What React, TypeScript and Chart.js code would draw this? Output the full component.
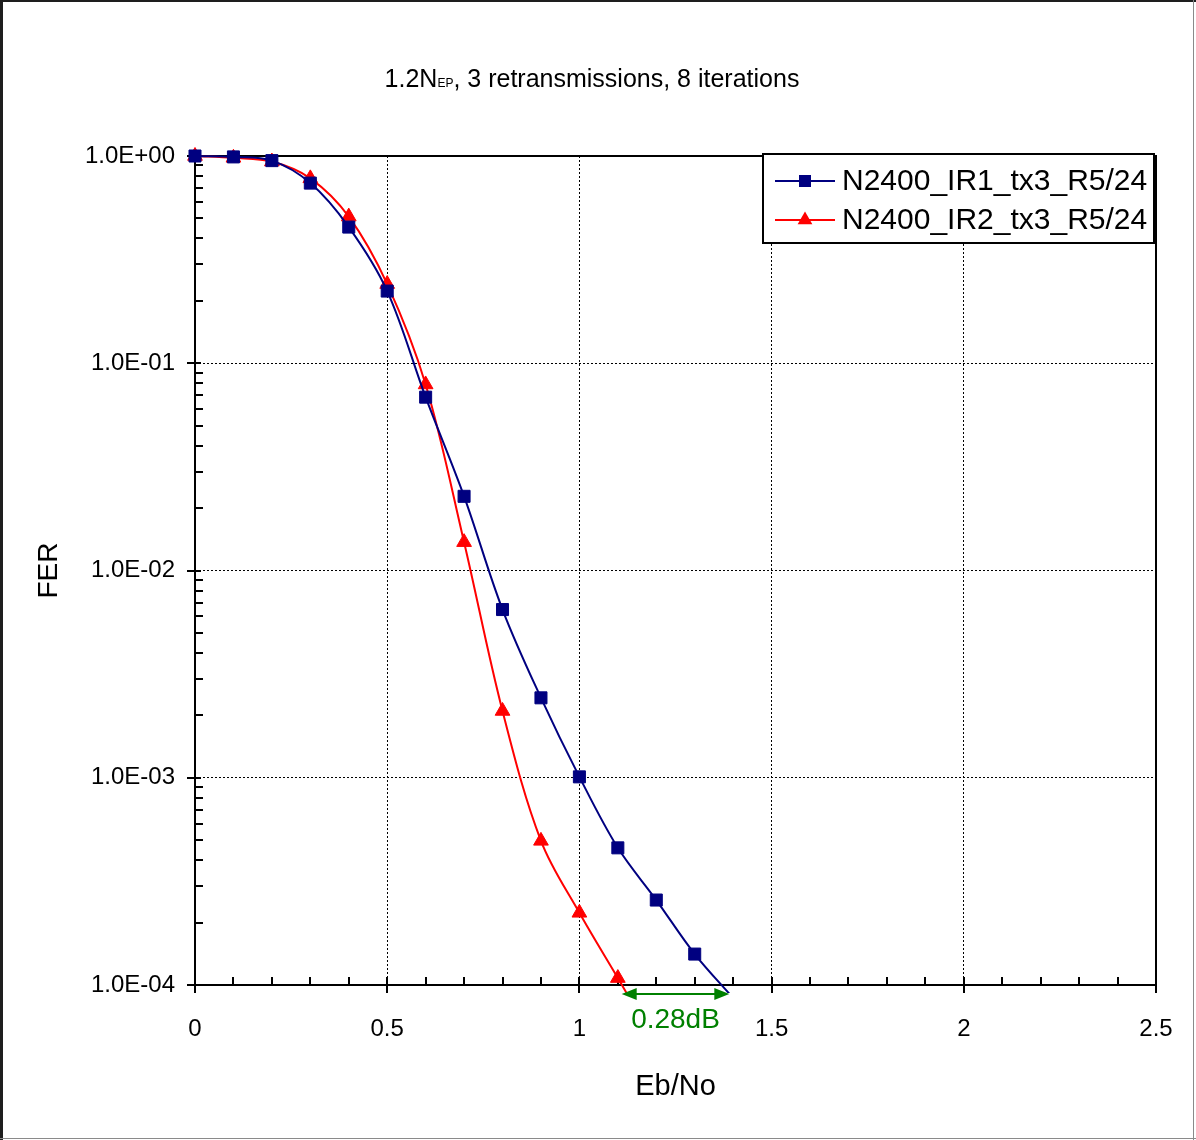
import React, { useEffect, useRef } from "react";
import { Chart, registerables } from "chart.js";

Chart.register(...registerables);

// ---- data ----
const ebNo = [0, 0.1, 0.2, 0.3, 0.4, 0.5, 0.6, 0.7, 0.8, 0.9, 1.0, 1.1, 1.2, 1.3, 1.4];
const ir1Fer = [1.0, 0.99, 0.95, 0.74, 0.454, 0.223, 0.0686, 0.0228, 0.00648, 0.00243, 0.00101, 0.000459, 0.000257, 0.000141, 0.0000865];
const ebNoIr2 = [0, 0.1, 0.2, 0.3, 0.4, 0.5, 0.6, 0.7, 0.8, 0.9, 1.0, 1.1, 1.2];
const ir2Fer = [1.0, 0.98, 0.94, 0.78, 0.51, 0.241, 0.079, 0.0137, 0.0021, 0.000496, 0.000223, 0.000108, 0.000052];
const seriesNames = ["N2400_IR1_tx3_R5/24", "N2400_IR2_tx3_R5/24"];

const xTickValues = [0, 0.5, 1, 1.5, 2, 2.5];
const yTickValues = [1, 0.1, 0.01, 0.001, 0.0001];
const yTickLabels = ["1.0E+00", "1.0E-01", "1.0E-02", "1.0E-03", "1.0E-04"];

const titleMain = "1.2N";
const titleSub = "EP";
const titleRest = ", 3 retransmissions, 8 iterations";
const xTitle = "Eb/No";
const yTitle = "FER";

const gapStart = 1.11;
const gapEnd = 1.39;
const gapLabel = "0.28dB";

const FONT = "'Liberation Sans', Arial, sans-serif";
const BLUE = "#000080";
const RED = "#FF0000";
const GREEN = "#008000";

const decorPlugin = {
  id: "decor",
  beforeDatasetsDraw(chart: any) {
    const { ctx, chartArea } = chart;
    const xs = chart.scales.x;
    const ys = chart.scales.y;
    const { left, right, top, bottom } = chartArea;
    ctx.save();
    ctx.strokeStyle = "#000";
    ctx.lineWidth = 2;
    ctx.setLineDash([]);
    ctx.beginPath();
    for (let d = -4; d <= -1; d++) {
      for (let m = 2; m <= 9; m++) {
        const py = Math.round(ys.getPixelForValue(m * Math.pow(10, d)));
        ctx.moveTo(left, py);
        ctx.lineTo(left + 8, py);
      }
    }
    yTickValues.forEach((v) => {
      const py = Math.round(ys.getPixelForValue(v));
      ctx.moveTo(left - 8, py);
      ctx.lineTo(left + 6, py);
    });
    for (let i = 0; i <= 25; i++) {
      const px = Math.round(xs.getPixelForValue(i / 10));
      if (i % 5 === 0) {
        ctx.moveTo(px, bottom - 8);
        ctx.lineTo(px, bottom + 8);
      } else {
        ctx.moveTo(px, bottom - 8);
        ctx.lineTo(px, bottom);
      }
    }
    ctx.stroke();
    ctx.strokeRect(left, top, right - left, bottom - top);
    ctx.restore();
  },
  afterDraw(chart: any) {
    const { ctx, chartArea } = chart;
    const xs = chart.scales.x;
    const { right, bottom } = chartArea;
    ctx.save();

    // title with subscript
    const mainFont = `25px ${FONT}`;
    const subFont = `12px ${FONT}`;
    ctx.font = mainFont;
    const w1 = ctx.measureText(titleMain).width;
    const w3 = ctx.measureText(titleRest).width;
    ctx.font = subFont;
    const w2 = ctx.measureText(titleSub).width;
    const total = w1 + w2 + w3;
    let tx = 592 - total / 2;
    const ty = 87;
    ctx.fillStyle = "#000";
    ctx.textBaseline = "alphabetic";
    ctx.textAlign = "left";
    ctx.font = mainFont;
    ctx.fillText(titleMain, tx, ty);
    tx += w1;
    ctx.font = subFont;
    ctx.fillText(titleSub, tx, ty);
    tx += w2;
    ctx.font = mainFont;
    ctx.fillText(titleRest, tx, ty);

    // legend
    const bx = right - 393;
    const by = 154;
    const bw = 391;
    const bh = 89;
    ctx.fillStyle = "#fff";
    ctx.fillRect(bx, by, bw, bh);
    ctx.strokeStyle = "#000";
    ctx.lineWidth = 2;
    ctx.strokeRect(bx, by, bw, bh);
    const rows = [181, 220];
    chart.data.datasets.forEach((ds: any, i: number) => {
      const ry = rows[i];
      ctx.strokeStyle = ds.borderColor;
      ctx.lineWidth = 2;
      ctx.beginPath();
      ctx.moveTo(bx + 12, ry);
      ctx.lineTo(bx + 72, ry);
      ctx.stroke();
      ctx.fillStyle = ds.pointBackgroundColor;
      ctx.beginPath();
      const mx = bx + 42;
      if (ds.pointStyle === "rect") {
        ctx.rect(mx - 6, ry - 6, 12, 12);
      } else {
        const r = 8.5;
        for (let k = 0; k < 3; k++) {
          const a = (k * 2 * Math.PI) / 3;
          const px = mx + Math.sin(a) * r;
          const py = ry - Math.cos(a) * r;
          if (k === 0) ctx.moveTo(px, py);
          else ctx.lineTo(px, py);
        }
        ctx.closePath();
      }
      ctx.fill();
      ctx.fillStyle = "#000";
      ctx.font = `30px ${FONT}`;
      ctx.textBaseline = "middle";
      ctx.textAlign = "left";
      ctx.fillText(ds.label, bx + 79, ry + 1);
    });

    // gap annotation
    const x1 = xs.getPixelForValue(gapStart);
    const x2 = xs.getPixelForValue(gapEnd);
    const ay = bottom + 9;
    ctx.strokeStyle = GREEN;
    ctx.fillStyle = GREEN;
    ctx.lineWidth = 2;
    ctx.beginPath();
    ctx.moveTo(x1 + 10, ay);
    ctx.lineTo(x2 - 10, ay);
    ctx.stroke();
    ctx.beginPath();
    ctx.moveTo(x1, ay);
    ctx.lineTo(x1 + 15, ay - 6);
    ctx.lineTo(x1 + 15, ay + 6);
    ctx.closePath();
    ctx.fill();
    ctx.beginPath();
    ctx.moveTo(x2, ay);
    ctx.lineTo(x2 - 15, ay - 6);
    ctx.lineTo(x2 - 15, ay + 6);
    ctx.closePath();
    ctx.fill();
    ctx.font = `28px ${FONT}`;
    ctx.textAlign = "center";
    ctx.textBaseline = "middle";
    ctx.fillText(gapLabel, (x1 + x2) / 2, ay + 26);

    // outer border
    const W = chart.width;
    const H = chart.height;
    ctx.fillStyle = "#1e1e1e";
    ctx.fillRect(0, 0, 3, H);
    ctx.fillRect(0, 0, W, 2);
    ctx.fillStyle = "#8a8a8a";
    ctx.fillRect(W - 3, 0, 1, H);
    ctx.fillRect(0, H - 2, W, 1);
    ctx.restore();
  },
};

export default function App() {
  const ref = useRef<HTMLCanvasElement | null>(null);

  useEffect(() => {
    if (!ref.current) return;
    const hideBelow = (c: any) => (c.raw && c.raw.y < 1e-4 ? 0 : 8.5);
    const chart = new Chart(ref.current, {
      type: "line",
      data: {
        datasets: [
          {
            label: seriesNames[0],
            data: ebNo.map((x, i) => ({ x, y: ir1Fer[i] })),
            borderColor: BLUE,
            backgroundColor: BLUE,
            pointBackgroundColor: BLUE,
            pointBorderColor: BLUE,
            pointStyle: "rect",
            pointRadius: hideBelow,
            pointBorderWidth: 1,
            borderWidth: 2,
            tension: 0.35,
            clip: { left: 14, top: 14, right: 14, bottom: 8 },
          },
          {
            label: seriesNames[1],
            data: ebNoIr2.map((x, i) => ({ x, y: ir2Fer[i] })),
            borderColor: RED,
            backgroundColor: RED,
            pointBackgroundColor: RED,
            pointBorderColor: RED,
            pointStyle: "triangle",
            pointRadius: hideBelow,
            pointBorderWidth: 1,
            borderWidth: 2,
            tension: 0.35,
            clip: { left: 14, top: 14, right: 14, bottom: 8 },
          },
        ] as any,
      },
      options: {
        animation: false,
        responsive: false,
        devicePixelRatio: 1,
        layout: { padding: { left: 0, top: 156, right: 40, bottom: 0 } },
        plugins: {
          legend: { display: false },
          title: { display: false },
          tooltip: { enabled: false },
        },
        scales: {
          x: {
            type: "linear",
            min: 0,
            max: 2.5,
            afterBuildTicks: (s: any) => {
              s.ticks = xTickValues.map((v) => ({ value: v }));
            },
            afterFit: (s: any) => {
              s.height = 155;
              s.paddingLeft = 0;
              s.paddingRight = 16;
            },
            ticks: {
              autoSkip: false,
              maxRotation: 0,
              padding: 30,
              color: "#000",
              font: { family: FONT, size: 24 },
              callback: (v: any) => String(v),
            },
            grid: { color: "#000", lineWidth: 1, drawTicks: false },
            border: { display: false, dash: [2, 2] },
            title: {
              display: true,
              text: xTitle,
              color: "#000",
              font: { family: FONT, size: 29 },
              padding: { top: 0, bottom: 36 },
            },
          },
          y: {
            type: "logarithmic",
            min: 1e-4,
            max: 1,
            afterBuildTicks: (s: any) => {
              s.ticks = yTickValues.map((v) => ({ value: v }));
            },
            afterFit: (s: any) => {
              s.width = 195;
            },
            ticks: {
              autoSkip: false,
              padding: 20,
              color: "#000",
              font: { family: FONT, size: 24 },
              callback: (v: any) => {
                const idx = yTickValues.findIndex((t) => Math.abs(t - v) < t * 1e-6);
                return idx >= 0 ? yTickLabels[idx] : "";
              },
            },
            grid: { color: "#000", lineWidth: 1, drawTicks: false },
            border: { display: false, dash: [2, 2] },
            title: {
              display: true,
              text: yTitle,
              color: "#000",
              font: { family: FONT, size: 28 },
              padding: { top: 32, bottom: 0 },
            },
          },
        },
      } as any,
      plugins: [decorPlugin],
    });
    return () => chart.destroy();
  }, []);

  return (
    <div style={{ position: "absolute", left: 0, top: 0, width: 1196, height: 1140, background: "#fff" }}>
      <canvas ref={ref} width={1196} height={1140} style={{ display: "block" }} />
    </div>
  );
}
